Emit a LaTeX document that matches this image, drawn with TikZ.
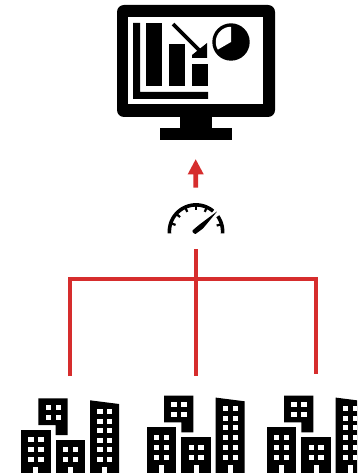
\documentclass[tikz,border=0pt]{standalone}
\definecolor{redline}{RGB}{214,45,45}
\tikzset{
  x=1pt,y=-1pt,
  link/.style={draw=redline,line width=4pt,line cap=butt},
  tower/.pic={
    \fill[black] (21,430) rectangle (50.7,480);
    \fill[black] (38.3,398.3) -- (67.7,398.3) -- (67.7,435) -- (55.7,435) -- (55.7,425) -- (38.3,425) -- cycle;
    \fill[black] (55.7,440) rectangle (85,480);
    \fill[black] (90,400.3) -- (119,404) -- (119,480) -- (90,480) -- cycle;
    \foreach \x in {28.3,38.3} \foreach \y in {437.3,447.3,457.3} \fill[white] (\x,\y) rectangle ++(5.2,5);
    \foreach \x in {45.7,55.7} \foreach \y in {405,415} \fill[white] (\x,\y) rectangle ++(5.2,5);
    \foreach \x in {63,72.7} \foreach \y in {447.3,457.3} \fill[white] (\x,\y) rectangle ++(5.2,5);
    \foreach \x in {97.3,107} \foreach \y in {409,418.5,428,437.6,447.3,457.3} \fill[white] (\x,\y) rectangle ++(5.2,5);
    \fill[white] (33.4,467.3) rectangle (38.4,480);
    \fill[white] (68,467.3) rectangle (72.8,480);
    \fill[white] (102.4,467.3) rectangle (107.2,480);
  }
}
\begin{document}
\begin{tikzpicture}
\useasboundingbox (0,0) rectangle (357,473);
\clip (0,0) rectangle (357,473);
% monitor
\fill[black,rounded corners=7pt] (117,5) rectangle (275,117);
\fill[white] (128,17) rectangle (263,104);
\fill[black] (180,115) rectangle (212,130);
\fill[black] (160,128) rectangle (232,140);
\fill[black] (133,23) -- (140,23) -- (140,92) -- (208,92) -- (208,99) -- (133,99) -- cycle;
\fill[black] (146,23) rectangle (162,86);
\fill[black] (169,44) rectangle (185,86);
\fill[black] (192,64) rectangle (208,86);
\draw[black,line width=3.6pt] (173,24) -- (203,54);
\fill[black] (207,43) -- (207,58) -- (192,58) -- (192,55) -- cycle;
\fill[black] (231,42) circle (18.7);
\fill[white] (231,42) -- plot[samples=40,domain=90:210] ({231+15.2*cos(\x)},{42-15.2*sin(\x)}) -- cycle;
% red arrow
\fill[redline] (195.7,159.3) -- (203.7,174.3) -- (198,174.3) -- (198,187.5) -- (193.4,187.5) -- (193.4,174.3) -- (187.7,174.3) -- cycle;
% gauge
\draw[black,line width=3.6pt] plot[samples=40,domain=184:50] ({196+26.6*cos(\x)},{231.5-26.6*sin(\x)});
\draw[black,line width=3.6pt] plot[samples=15,domain=35:-4] ({196+26.6*cos(\x)},{231.5-26.6*sin(\x)});
\foreach \a in {162,138,114,90,66,16}
  \draw[black,line width=2.2pt] ({196+26*cos(\a)},{231.5-26*sin(\a)}) -- ({196+21.5*cos(\a)},{231.5-21.5*sin(\a)});
\fill[black,rounded corners=1pt] (191.8,231) -- (195,234.4) -- (203,228.5) -- (217.5,211) -- (199.5,224.5) -- cycle;
% connectors
\coordinate (feed) at (195.7,249.3);
\coordinate (ltop) at (70,278.9);
\coordinate (rtop) at (315.5,278.9);
\coordinate (lend) at (70,376);
\coordinate (mend) at (195.7,376);
\coordinate (rend) at (315.5,374);
\draw[link] (feed) -- (mend);
\draw[link] (lend) -- (ltop) -- (rtop) -- (rend);
% buildings
\pic at (0,0) {tower};
\pic at (125.7,-2.7) {tower};
\pic at (245.7,-2.7) {tower};
\end{tikzpicture}
\end{document}
